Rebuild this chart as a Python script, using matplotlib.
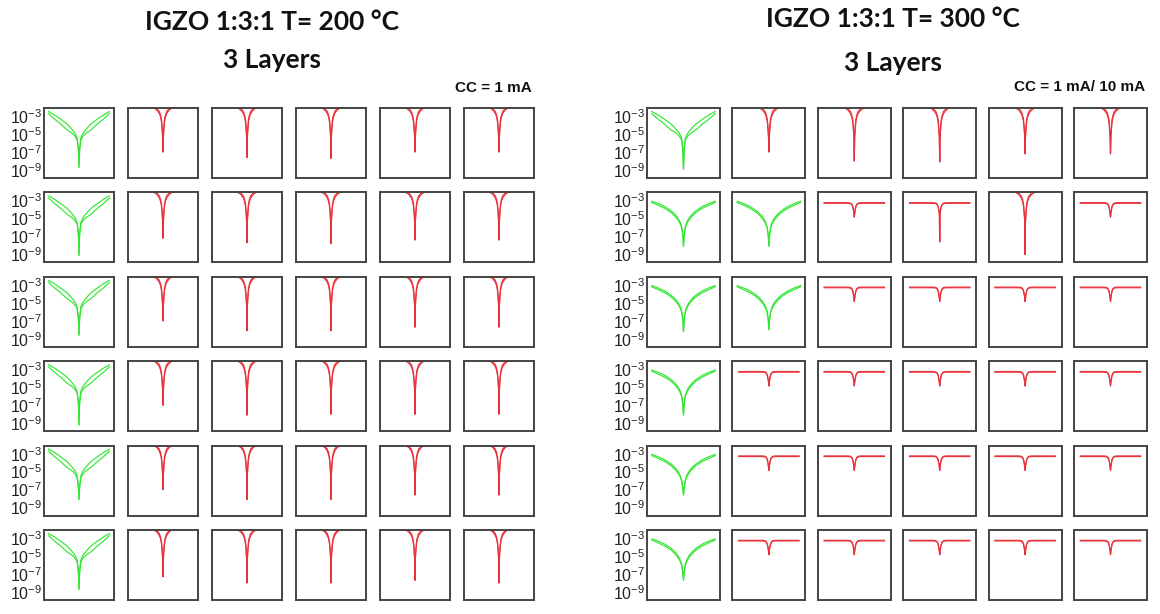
import matplotlib.pyplot as plt
import numpy as np

# --- data (log10 of |I|, A) ---
# half curves for V < 0, the V > 0 side is the mirror image
V_GREEN = [-1.0, -0.8, -0.6, -0.4, -0.3, -0.2, -0.12, -0.06, -0.02]
GREEN_UP = [-2.49, -2.88, -3.35, -3.86, -4.21, -4.6, -4.99, -5.45, -6.62]
GREEN_LO = [-2.72, -3.35, -3.89, -4.52, -4.75, -4.99, -5.3, -5.69, -6.86]
GREEN2_UP = [-3.08, -3.34, -3.66, -4.12, -4.44, -4.83, -5.29, -5.87, -6.78]
GREEN2_LO = [-3.21, -3.53, -3.86, -4.31, -4.64, -5.03, -5.48, -6.0, -6.91]

V_RED = [-1.0, -0.4, -0.3, -0.2, -0.12, -0.08, -0.05, -0.03, -0.012]
RED_OUT = [-1.95, -1.95, -2.1, -2.33, -2.72, -3.11, -3.66, -4.44, -5.38]
RED_IN = [-1.95, -1.95, -2.02, -2.18, -2.49, -2.88, -3.35, -4.13, -5.22]

V_FLAT = [-0.95, -0.2, -0.12, -0.08, -0.05, -0.025, -0.01]
FLAT_A = [-3.25, -3.25, -3.29, -3.41, -3.63, -4.08, -4.46]
FLAT_B = [-3.32, -3.32, -3.36, -3.48, -3.7, -4.15, -4.54]

# g = green double loop, h = green (300 C), r = red at compliance, f = red flat
KIND_200 = [
    ['g', 'r', 'r', 'r', 'r', 'r'],
    ['g', 'r', 'r', 'r', 'r', 'r'],
    ['g', 'r', 'r', 'r', 'r', 'r'],
    ['g', 'r', 'r', 'r', 'r', 'r'],
    ['g', 'r', 'r', 'r', 'r', 'r'],
    ['g', 'r', 'r', 'r', 'r', 'r'],
]
DIP_200 = [
    [-8.7, -7.0, -7.6, -7.7, -7.0, -7.0],
    [-9.1, -7.2, -7.7, -7.8, -7.4, -7.4],
    [-8.6, -7.0, -8.1, -8.1, -7.7, -7.7],
    [-9.2, -7.0, -8.1, -8.0, -8.0, -8.0],
    [-8.1, -7.0, -8.1, -8.1, -7.6, -7.6],
    [-8.7, -7.3, -8.0, -8.0, -7.7, -8.0],
]

KIND_300 = [
    ['g', 'r', 'r', 'r', 'r', 'r'],
    ['h', 'h', 'f', 'f', 'r', 'f'],
    ['h', 'h', 'f', 'f', 'f', 'f'],
    ['h', 'f', 'f', 'f', 'f', 'f'],
    ['h', 'f', 'f', 'f', 'f', 'f'],
    ['h', 'f', 'f', 'f', 'f', 'f'],
]
DIP_300 = [
    [-8.9, -7.0, -8.0, -8.1, -7.2, -7.2],
    [-8.1, -8.1, -4.85, -7.6, -9.0, -4.85],
    [-8.2, -8.0, -4.85, -4.85, -4.85, -4.85],
    [-8.1, -4.85, -4.85, -4.85, -4.85, -4.85],
    [-7.6, -4.85, -4.85, -4.85, -4.85, -4.85],
    [-7.7, -4.85, -4.85, -4.85, -4.85, -4.85],
]

YTICKS = [1e-3, 1e-5, 1e-7, 1e-9]
YTICK_LABELS = [r'$10^{-3}$', r'$10^{-5}$', r'$10^{-7}$', r'$10^{-9}$']

GREEN = '#33e633'
RED = '#e8323a'

plt.rcParams['mathtext.fontset'] = 'custom'
plt.rcParams['mathtext.rm'] = 'Liberation Sans'
plt.rcParams['mathtext.it'] = 'Liberation Sans:italic'
plt.rcParams['mathtext.bf'] = 'Liberation Sans:bold'

W, H = 1160, 614
fig = plt.figure(figsize=(W / 100, H / 100), dpi=100)


def full_curve(v_half, y_half, dip):
    """미러링으로 전체 곡선 만들기"""
    v = np.array(v_half + [0.0] + [-x for x in v_half[::-1]])
    y = np.array(y_half + [dip] + y_half[::-1])
    return v, 10.0 ** y


def branches(kind):
    if kind == 'g':
        return V_GREEN, [GREEN_UP, GREEN_LO], GREEN
    if kind == 'h':
        return V_GREEN, [GREEN2_UP, GREEN2_LO], GREEN
    if kind == 'r':
        return V_RED, [RED_OUT, RED_IN], RED
    return V_FLAT, [FLAT_A, FLAT_B], RED


def draw_grid(kinds, dips, left, pitch_x, box_w):
    for r in range(6):
        for c in range(6):
            top = 108 + r * 84.4
            ax = fig.add_axes([(left + c * pitch_x) / W, 1 - (top + 70) / H,
                               box_w / W, 70 / H])
            v_half, ys, color = branches(kinds[r][c])
            for y_half in ys:
                v, i = full_curve(v_half, y_half, dips[r][c])
                ax.plot(v, i, color=color, lw=0.85)
            ax.set_yscale('log')
            ax.set_ylim(10 ** -9.9, 10 ** -2.1)
            ax.set_xlim(-1.15, 1.15)
            ax.set_xticks([])
            ax.minorticks_off()
            ax.set_yticks(YTICKS)
            if c == 0:
                ax.set_yticklabels(YTICK_LABELS)
            else:
                ax.set_yticklabels([])
            ax.tick_params(axis='y', length=0, pad=1, labelsize=11.5,
                           labelcolor='#222222')
            for s in ax.spines.values():
                s.set_color('#444444')
                s.set_linewidth(1.4)


draw_grid(KIND_200, DIP_200, 44, 84, 70)
draw_grid(KIND_300, DIP_300, 647, 85.4, 73)

# 제목
title_kw = dict(ha='center', va='center', fontsize=19, fontweight='bold',
                family='Lato', color='#111111')
fig.text(272 / W, 1 - 22 / H, 'IGZO 1:3:1 T= 200 °C', **title_kw)
fig.text(272 / W, 1 - 60 / H, '3 Layers', **title_kw)
fig.text(893 / W, 1 - 19 / H, 'IGZO 1:3:1 T= 300 °C', **title_kw)
fig.text(893 / W, 1 - 63 / H, '3 Layers', **title_kw)

cc_kw = dict(ha='right', va='center', fontsize=11, fontweight='bold',
             family='Liberation Sans', color='#111111')
fig.text(532 / W, 1 - 88 / H, 'CC = 1 mA', **cc_kw)
fig.text(1145 / W, 1 - 87 / H, 'CC = 1 mA/ 10 mA', **cc_kw)

fig.savefig('out.png', dpi=100)
